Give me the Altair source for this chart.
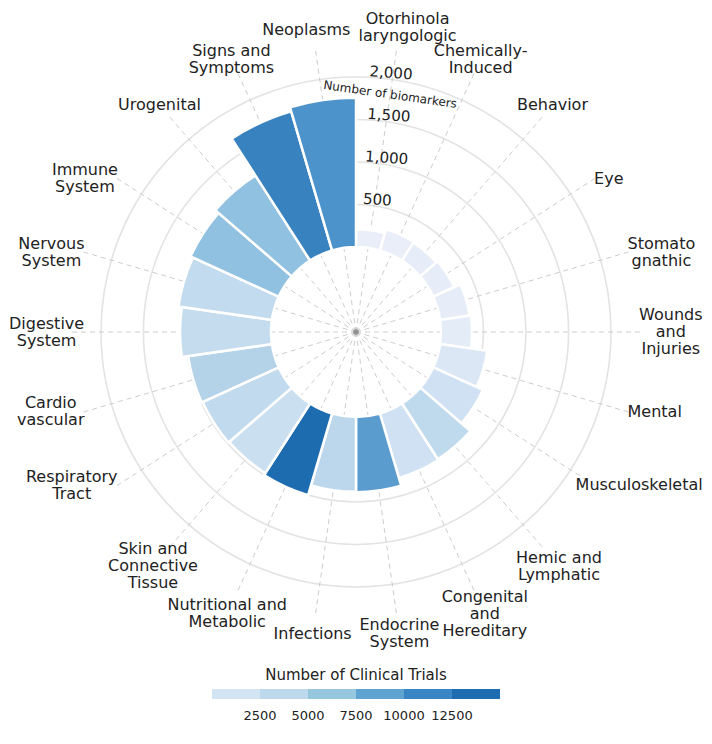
import math
import altair as alt
import pandas as pd

# ---------------- data ----------------
categories = [
    "Otorhinola\nlaryngologic", "Chemically-\nInduced", "Behavior", "Eye",
    "Stomato\ngnathic", "Wounds\nand\nInjuries", "Mental", "Musculoskeletal",
    "Hemic and\nLymphatic", "Congenital\nand\nHereditary", "Endocrine\nSystem",
    "Infections", "Nutritional and\nMetabolic", "Skin and\nConnective\nTissue",
    "Respiratory\nTract", "Cardio\nvascular", "Digestive\nSystem",
    "Nervous\nSystem", "Immune\nSystem", "Urogenital", "Signs and\nSymptoms",
    "Neoplasms",
]
biomarkers = [210, 260, 250, 270, 350, 365, 560, 640, 780, 790, 885, 880,
              1000, 975, 985, 995, 1070, 1110, 1140, 1190, 1705, 1755]
clinical_trials = [400, 500, 800, 800, 700, 1000, 2000, 3000, 4200, 3000, 9300,
                   4400, 12600, 3400, 4000, 5000, 3800, 3900, 6900, 6900, 11000, 9900]
radial_ticks = [500, 1000, 1500, 2000]
radial_tick_labels = ["500", "1,000", "1,500", "2,000"]
legend_thresholds = [2500, 5000, 7500, 10000, 12500]
legend_colors = ["#d3e4f3", "#bed8ec", "#97c6df", "#5fa3d1", "#3a85c3", "#1f6db1"]
bar_color_stops = [0, 2500, 5000, 7500, 10000, 12500]
bar_color_range = ["#eef0fa", "#d6e5f4", "#b4d3e9", "#86bbdd", "#4a90ca", "#1f6db1"]

N = len(categories)
W, H = 696, 648
CX, CY = 348, 324          # centre of the polar plot (chart coords)
R0, RMAX = 85, 255         # inner radius, radius of 2,000
K = (RMAX - R0) / 2000.0
R_A, R_B_TOP, R_B_BOT, R_C = 305, 300, 310, 283
FS = 16
LINE_H = 17
SPOKE_R = 284
FONT = "DejaVu Sans"

# approximate DejaVu Sans advance widths (em) to size the multi-line label blocks
_adv = dict(zip("abcdefghijklmnopqrstuvwxyz",
                [.613, .635, .55, .635, .615, .352, .635, .634, .278, .278, .579, .278, .974,
                 .634, .612, .635, .635, .411, .521, .392, .634, .592, .818, .592, .592, .525]))
_adv.update(zip("ABCDEFGHIJKLMNOPQRSTUVWXYZ",
                [.684, .686, .698, .77, .632, .575, .775, .752, .295, .295, .656, .557, .863,
                 .748, .787, .603, .787, .695, .635, .611, .732, .684, .989, .685, .611, .685]))
_adv.update({" ": .318, "-": .361})


def block_width(text):
    return max(sum(_adv.get(ch, .6) for ch in line) for line in text.split("\n")) * FS


df = pd.DataFrame({
    "label": categories,
    "biomarkers": biomarkers,
    "trials": clinical_trials,
    "i": list(range(N)),
})
df["i2"] = df["i"] + 1
df["base"] = 0
df["nlines"] = [c.count("\n") + 1 for c in categories]
df["bw"] = [block_width(c) for c in categories]

theta_scale = alt.Scale(domain=[0, N], range=[0, 2 * math.pi])
r_scale = alt.Scale(type="linear", domain=[-R0 / K, 2000], range=[0, RMAX],
                    zero=False, nice=False)

ang = f"((datum.i + 0.5) * 2 * PI / {N})"

# grid circles
gdf = pd.DataFrame({"v": radial_ticks, "t0": 0, "t1": N})
grid = alt.Chart(gdf).mark_arc(fillOpacity=0, stroke="#e3e3e3", strokeWidth=1.6).encode(
    theta=alt.Theta("t0:Q", scale=theta_scale),
    theta2="t1:Q",
    radius=alt.Radius("v:Q", scale=r_scale),
    radius2="v:Q",
    x=alt.value(CX), y=alt.value(CY),
)

# dashed spokes
spokes = alt.Chart(df).transform_calculate(
    x0=f"{CX}", y0=f"{CY}",
    x1=f"{CX} + {SPOKE_R} * sin({ang})",
    y1=f"{CY} - {SPOKE_R} * cos({ang})",
).mark_rule(strokeDash=[5, 4], color="#cdcdcd", strokeWidth=1).encode(
    x=alt.X("x0:Q", scale=None, axis=None),
    y=alt.Y("y0:Q", scale=None, axis=None),
    x2="x1:Q", y2="y1:Q",
)

# bars
bars = alt.Chart(df).mark_arc(stroke="white", strokeWidth=2.5).encode(
    theta=alt.Theta("i:Q", scale=theta_scale),
    theta2="i2:Q",
    radius=alt.Radius("biomarkers:Q", scale=r_scale),
    radius2="base:Q",
    color=alt.Color("trials:Q", legend=None,
                    scale=alt.Scale(type="linear", domain=bar_color_stops,
                                    range=bar_color_range, interpolate="rgb")),
    x=alt.value(CX), y=alt.value(CY),
)

# centre dot
centre = alt.Chart(pd.DataFrame({"c": [0]})).mark_point(
    filled=True, size=30, color="#8c8c8c", opacity=0.9
).encode(x=alt.value(CX), y=alt.value(CY))

# category labels
labels = alt.Chart(df).transform_calculate(
    a=ang,
).transform_calculate(
    s="sin(datum.a)", c="cos(datum.a)",
).transform_calculate(
    zone="abs(datum.s) < 0.3 ? 'A' : (abs(datum.s) < 0.7 ? 'B' : 'C')",
    top="datum.c > 0",
).transform_calculate(
    ra=f"{R_A} + (datum.top ? (datum.nlines - 1) * {LINE_H} / 2 : 0)",
    rb=f"datum.top ? {R_B_TOP} : {R_B_BOT}",
).transform_calculate(
    cx0=(f"datum.zone == 'A' ? {CX} + datum.ra * datum.s + (datum.top ? datum.s * datum.bw * 0.5 : 0) : "
         f"(datum.zone == 'B' ? {CX} + datum.rb * datum.s : "
         f"{CX} + {R_C} * datum.s + (datum.s > 0 ? 1 : -1) * datum.bw / 2)"),
    cy0=(f"datum.zone == 'A' ? {CY} - datum.ra * datum.c : "
         f"(datum.zone == 'B' ? {CY} - datum.rb * datum.c : {CY} - {R_C} * datum.c)"),
).transform_calculate(
    lx=f"clamp(datum.cx0, 1 + datum.bw / 2, {W - 1} - datum.bw / 2)",
    ly=f"max(datum.cy0 - (datum.nlines - 1) * {LINE_H} / 2, 11)",
).mark_text(font=FONT, fontSize=FS, lineBreak="\n", lineHeight=LINE_H,
            align="center", baseline="middle", color="#222222").encode(
    x=alt.X("lx:Q", scale=None, axis=None),
    y=alt.Y("ly:Q", scale=None, axis=None),
    text="label:N",
)

# radial tick labels
tdf = pd.DataFrame({"v": radial_ticks, "t": radial_tick_labels})
ticks = alt.Chart(tdf).transform_calculate(
    rr=f"{R0} + datum.v * {K} + 6",
    tx=f"{CX} + datum.rr * sin(3 * PI / 180)",
    ty=f"{CY} - datum.rr * cos(3 * PI / 180)",
).mark_text(font=FONT, fontSize=15, align="left", baseline="middle",
            angle=4, color="#222222").encode(
    x=alt.X("tx:Q", scale=None, axis=None),
    y=alt.Y("ty:Q", scale=None, axis=None),
    text="t:N",
)

# radial axis title
adf = pd.DataFrame({"t": ["Number of biomarkers"], "i": [0]})
atitle = alt.Chart(adf).transform_calculate(
    tx=f"{CX} + 240 * sin({ang})",
    ty=f"{CY} - 240 * cos({ang})",
).mark_text(font=FONT, fontSize=12, align="center", baseline="middle",
            angle=360 / N / 2, color="#222222").encode(
    x=alt.X("tx:Q", scale=None, axis=None),
    y=alt.Y("ty:Q", scale=None, axis=None),
    text="t:N",
)

# legend carrier (invisible)
legend_layer = alt.Chart(df).mark_point(opacity=0).encode(
    x=alt.value(CX), y=alt.value(CY),
    color=alt.Color(
        "trials:Q",
        scale=alt.Scale(type="threshold", domain=legend_thresholds, range=legend_colors),
        legend=alt.Legend(
            title="Number of Clinical Trials", orient="none", legendX=204, legendY=660,
            direction="horizontal", gradientLength=288, gradientThickness=10,
            titleAnchor="middle", titleFontSize=15, titleFontWeight="normal",
            titleFont=FONT, labelFont=FONT, labelFontSize=13, format="d",
            titleColor="#222222", labelColor="#222222", gradientStrokeWidth=0,
            titlePadding=6, titleLimit=400, labelOverlap=False, labelOffset=11,
        ),
    ),
)

chart = alt.layer(grid, spokes, bars, centre, ticks, atitle, labels, legend_layer).resolve_scale(
    color="independent"
).properties(
    width=W, height=H,
    padding={"left": 0, "top": 0, "right": 0, "bottom": 80},
    autosize=alt.AutoSizeParams(type="none"),
    background="white",
).configure_view(stroke=None).configure_legend(
    gradientLength=288, gradientThickness=10,
    gradientHorizontalMaxLength=288, gradientHorizontalMinLength=288,
    titleLimit=400,
)

chart.save("out.html", embed_options={"renderer": "svg", "actions": False})
